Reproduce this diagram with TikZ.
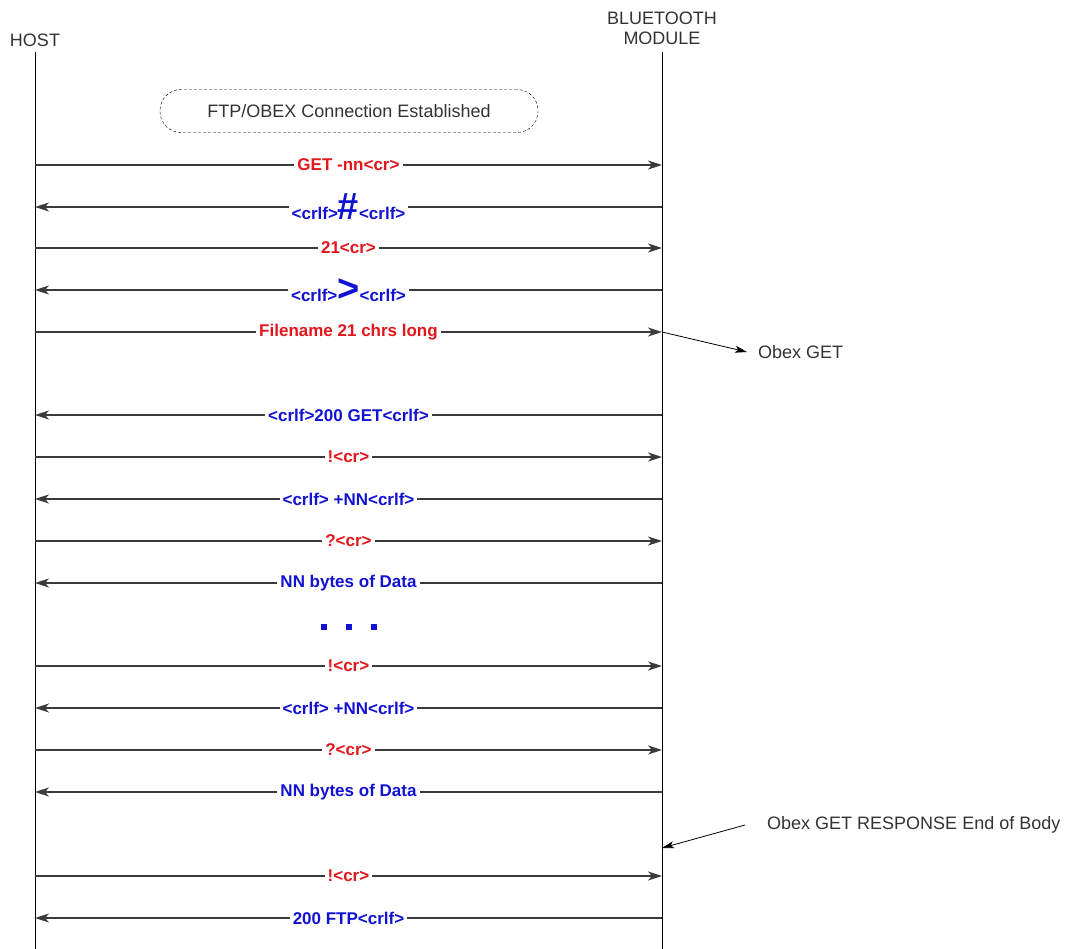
\documentclass[tikz,border=0pt]{standalone}
\usepackage{fontspec}
\setmainfont{Liberation Sans}
\usetikzlibrary{arrows.meta,positioning}
\definecolor{reqred}{HTML}{E3161B}
\definecolor{repblue}{HTML}{1212D2}
\definecolor{linegray}{HTML}{3A3A3A}
\definecolor{notegray}{HTML}{333333}

\begin{document}
\begin{tikzpicture}[
  x=1pt,y=-1pt,
  actor/.style={align=center,font=\fontsize{18}{20}\selectfont,text=notegray,inner sep=0pt},
  lifeline/.style={draw=black,line width=0.8pt},
  msg/.style={draw=linegray,line width=1.2pt},
  toright/.style={msg,-{Stealth[length=14pt,width=9pt,inset=4pt]}},
  toleft/.style={msg,-{Stealth[length=14pt,width=9pt,inset=4pt]}},
  req/.style={fill=white,inner xsep=3pt,inner ysep=1pt,text=reqred,font=\bfseries\fontsize{17}{19}\selectfont},
  rep/.style={fill=white,inner xsep=3pt,inner ysep=1pt,text=repblue,font=\bfseries\fontsize{17}{19}\selectfont},
  big/.style={font=\bfseries\fontsize{38}{38}\selectfont},
  note/.style={anchor=west,inner sep=0pt,text=notegray,font=\fontsize{18}{20}\selectfont},
  notearrow/.style={draw=black,line width=0.8pt,-{Stealth[length=12pt,width=7pt,inset=3pt]}},
  state/.style={draw=black,dash pattern=on 3pt off 2pt,rounded corners=21pt,minimum width=378pt,
    minimum height=43pt,font=\fontsize{18}{20}\selectfont,text=notegray},
  dot/.style={fill=repblue,inner sep=0pt,minimum size=6pt}
]
\useasboundingbox (0,0) rectangle (1072,949);

\node[actor] (host) at (35,40) {HOST};
\node[actor] (module) at (662,28) {BLUETOOTH\\MODULE};
\coordinate (hostend) at (35,949);
\coordinate (moduleend) at (662,949);
\draw[lifeline] (35,52) -- (hostend);
\draw[lifeline] (662,52) -- (moduleend);

\node[state] (conn) at (349,111) {FTP/OBEX Connection Established};

% message rows on the two lifelines
\foreach \i/\y in {1/165,2/207,3/248,4/290,5/332,6/415,7/457,8/499,
    9/541,10/583,11/666,12/708,13/750,14/792,15/876,16/918}
  {\coordinate (h\i) at (35,\y);
   \coordinate (m\i) at (662,\y);}

\draw[toright] (h1) -- node[req] {GET -nn<cr>} (m1);
\draw[toleft] (m2) -- node[rep] {<crlf>\tikz[baseline]\node[inner sep=0pt,big,anchor=base]{\#};<crlf>} (h2);
\draw[toright] (h3) -- node[req] {21<cr>} (m3);
\draw[toleft] (m4) -- node[rep] {<crlf>\tikz[baseline]\node[inner sep=0pt,big,anchor=base]{>};<crlf>} (h4);
\draw[toright] (h5) -- node[req] {Filename 21 chrs long} (m5);
\draw[toleft] (m6) -- node[rep] {<crlf>200 GET<crlf>} (h6);
\draw[toright] (h7) -- node[req] {!<cr>} (m7);
\draw[toleft] (m8) -- node[rep] {<crlf> +NN<crlf>} (h8);
\draw[toright] (h9) -- node[req] {?<cr>} (m9);
\draw[toleft] (m10) -- node[rep] {NN bytes of Data} (h10);

\node[dot] (dot1) at (324,627) {};
\node[dot] (dot2) at (349,627) {};
\node[dot] (dot3) at (374,627) {};

\draw[toright] (h11) -- node[req] {!<cr>} (m11);
\draw[toleft] (m12) -- node[rep] {<crlf> +NN<crlf>} (h12);
\draw[toright] (h13) -- node[req] {?<cr>} (m13);
\draw[toleft] (m14) -- node[rep] {NN bytes of Data} (h14);
\draw[toright] (h15) -- node[req] {!<cr>} (m15);
\draw[toleft] (m16) -- node[rep] {200 FTP<crlf>} (h16);

% annotations
\node[note] (obexget) at (758,352) {Obex GET};
\draw[notearrow] (m5) -- ([xshift=-11pt]obexget.west);
\node[note] (obexend) at (767,825) {Obex GET RESPONSE End of Body};
\coordinate (bodyend) at (662,848);
\draw[notearrow] ([xshift=-22pt]obexend.west) -- (bodyend);
\end{tikzpicture}
\end{document}
